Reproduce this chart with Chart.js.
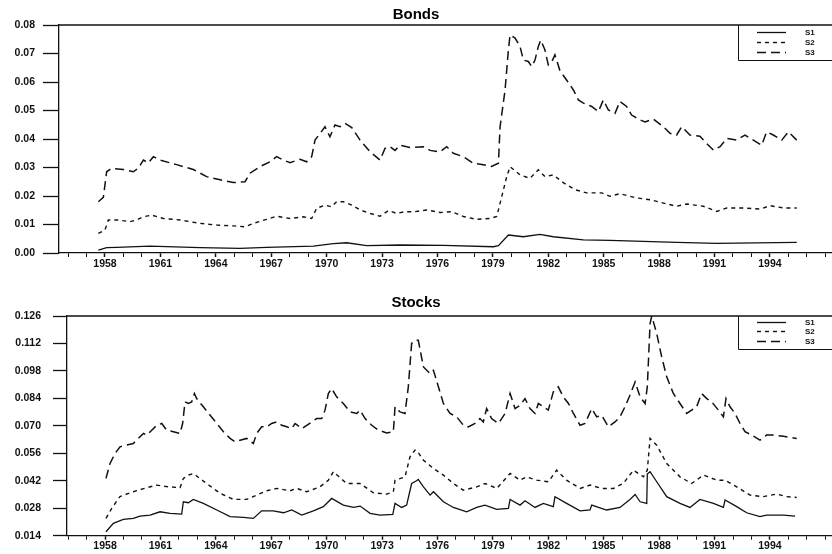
<!DOCTYPE html>
<html>
<head>
<meta charset="utf-8">
<script src="https://cdn.jsdelivr.net/npm/chart.js@4.4.0/dist/chart.umd.min.js"></script>
<style>
body { margin: 0; background: #fff; }
canvas { display: block; }
</style>
</head>
<body>
<canvas id="bondsChart" width="832" height="270"></canvas>
<canvas id="stocksChart" width="832" height="284"></canvas>
<script>
// ---- Bonds ----
var bondsS1Years = [1957.64, 1958.09, 1958.63, 1960.44, 1963.14, 1965.31, 1966.75, 1969.28, 1970.36, 1971.08, 1972.17, 1973.97,
    1976.32, 1979.03, 1979.30, 1979.84, 1980.65, 1981.55, 1982.27, 1983.90, 1985.34, 1988.95, 1991.12, 1995.45];
var bondsS1 = [0.0010, 0.0019, 0.0020, 0.0024, 0.0019, 0.0016, 0.0020, 0.0024, 0.0033, 0.0036, 0.0026, 0.0028,
    0.0027, 0.0022, 0.0026, 0.0063, 0.0057, 0.0065, 0.0057, 0.0046, 0.0044, 0.0037, 0.0034, 0.0037];

var bondsS2Years = [1957.64, 1958.00, 1958.18, 1958.63, 1959.35, 1959.71, 1960.08, 1960.53, 1961.16, 1962.06, 1963.14, 1964.05,
    1964.95, 1965.58, 1966.03, 1966.75, 1967.29, 1968.02, 1968.74, 1969.19, 1969.46, 1969.91, 1970.27, 1970.54, 1970.90,
    1971.36, 1971.81, 1972.35, 1972.89, 1973.34, 1973.79, 1974.24, 1974.78, 1975.42, 1976.14, 1976.77, 1977.40, 1978.12,
    1978.84, 1979.21, 1979.48, 1979.75, 1979.93, 1980.47, 1981.01, 1981.46, 1981.82, 1982.27, 1982.81, 1983.45, 1984.08,
    1984.89, 1985.34, 1985.88, 1986.79, 1987.51, 1988.23, 1988.95, 1989.49, 1990.40, 1991.12, 1991.66, 1992.56, 1993.46,
    1994.00, 1994.73, 1995.45];
var bondsS2 = [0.0069, 0.0081, 0.0116, 0.0116, 0.0110, 0.0116, 0.0127, 0.0133, 0.0121, 0.0116, 0.0104, 0.0098,
    0.0095, 0.0092, 0.0104, 0.0118, 0.0129, 0.0121, 0.0127, 0.0121, 0.0157, 0.0168, 0.0162, 0.0180, 0.0180,
    0.0168, 0.0151, 0.0139, 0.0129, 0.0149, 0.0139, 0.0145, 0.0145, 0.0151, 0.0142, 0.0145, 0.0128, 0.0118,
    0.0121, 0.0128, 0.0198, 0.0268, 0.0303, 0.0274, 0.0262, 0.0292, 0.0268, 0.0274, 0.0247, 0.0222, 0.0211,
    0.0211, 0.0199, 0.0208, 0.0193, 0.0187, 0.0175, 0.0164, 0.0172, 0.0164, 0.0146, 0.0158, 0.0158, 0.0154,
    0.0166, 0.0158, 0.0158];

var bondsS3Years = [1957.64, 1957.91, 1958.09, 1958.36, 1958.99, 1959.53, 1959.80, 1960.08, 1960.35, 1960.62, 1960.98, 1961.88,
    1962.78, 1963.50, 1964.23, 1964.95, 1965.58, 1965.85, 1966.39, 1966.93, 1967.29, 1967.66, 1968.02, 1968.56, 1968.92,
    1969.19, 1969.37, 1969.64, 1969.91, 1970.18, 1970.45, 1970.72, 1970.99, 1971.36, 1971.81, 1972.35, 1972.89, 1973.16,
    1973.43, 1973.70, 1973.97, 1974.51, 1975.24, 1975.60, 1976.14, 1976.50, 1976.86, 1977.40, 1977.94, 1978.48, 1978.93,
    1979.30, 1979.39, 1979.66, 1979.84, 1979.93, 1980.20, 1980.47, 1980.65, 1980.92, 1981.10, 1981.28, 1981.46, 1981.59,
    1981.82, 1982.00, 1982.18, 1982.36, 1982.63, 1982.99, 1983.36, 1983.63, 1983.90, 1984.35, 1984.71, 1984.98, 1985.25,
    1985.61, 1985.88, 1986.24, 1986.51, 1986.97, 1987.24, 1987.69, 1988.23, 1988.59, 1988.95, 1989.22, 1989.67, 1990.21,
    1990.58, 1990.94, 1991.30, 1991.66, 1992.20, 1992.65, 1993.10, 1993.55, 1993.82, 1994.18, 1994.64, 1995.00, 1995.45];
var bondsS3 = [0.0180, 0.0195, 0.0285, 0.0297, 0.0293, 0.0285, 0.0297, 0.0326, 0.0316, 0.0338, 0.0326, 0.0310,
    0.0293, 0.0268, 0.0257, 0.0247, 0.0250, 0.0280, 0.0303, 0.0320, 0.0338, 0.0326, 0.0317, 0.0329, 0.0320,
    0.0338, 0.0396, 0.0419, 0.0443, 0.0408, 0.0449, 0.0443, 0.0455, 0.0440, 0.0396, 0.0355, 0.0326, 0.0367,
    0.0373, 0.0360, 0.0378, 0.0370, 0.0373, 0.0360, 0.0355, 0.0373, 0.0350, 0.0338, 0.0315, 0.0310, 0.0304,
    0.0315, 0.0443, 0.0572, 0.0712, 0.0765, 0.0754, 0.0725, 0.0677, 0.0672, 0.0654, 0.0677, 0.0725, 0.0747,
    0.0712, 0.0660, 0.0670, 0.0695, 0.0640, 0.0607, 0.0572, 0.0537, 0.0526, 0.0514, 0.0496, 0.0537, 0.0502,
    0.0490, 0.0532, 0.0514, 0.0484, 0.0467, 0.0460, 0.0470, 0.0443, 0.0420, 0.0414, 0.0443, 0.0414, 0.0410,
    0.0384, 0.0361, 0.0373, 0.0402, 0.0396, 0.0414, 0.0396, 0.0378, 0.0425, 0.0414, 0.0396, 0.0425, 0.0396];

var bondsYTicks = [0, 0.01, 0.02, 0.03, 0.04, 0.05, 0.06, 0.07, 0.08];

// ---- Stocks ----
var stocksS1Years = [1958.05, 1958.45, 1958.99, 1959.53, 1959.89, 1960.44, 1960.98, 1961.52, 1962.15, 1962.24, 1962.51, 1962.78,
    1963.32, 1964.05, 1964.77, 1965.49, 1966.03, 1966.48, 1967.11, 1967.66, 1968.11, 1968.65, 1969.28, 1969.82, 1970.27,
    1970.90, 1971.45, 1971.81, 1972.35, 1972.89, 1973.58, 1973.70, 1974.06, 1974.33, 1974.60, 1974.87, 1974.96, 1975.24,
    1975.60, 1975.78, 1976.32, 1976.86, 1977.58, 1978.12, 1978.57, 1979.21, 1979.84, 1979.93, 1980.47, 1980.74, 1981.28,
    1981.73, 1982.27, 1982.36, 1982.99, 1983.72, 1984.26, 1984.35, 1985.16, 1985.88, 1986.42, 1986.70, 1986.97, 1987.33,
    1987.36, 1987.51, 1987.87, 1988.41, 1989.13, 1989.67, 1990.21, 1990.94, 1991.48, 1991.57, 1992.20, 1992.74, 1993.46,
    1993.82, 1994.73, 1995.36];
var stocksS1 = [0.0160, 0.0203, 0.0223, 0.0228, 0.0240, 0.0245, 0.0262, 0.0254, 0.0250, 0.0313, 0.0308, 0.0325,
    0.0305, 0.0271, 0.0237, 0.0233, 0.0228, 0.0267, 0.0267, 0.0257, 0.0271, 0.0245, 0.0267, 0.0288, 0.0330,
    0.0296, 0.0284, 0.0291, 0.0254, 0.0245, 0.0249, 0.0305, 0.0284, 0.0296, 0.0406, 0.0420, 0.0427, 0.0389,
    0.0347, 0.0364, 0.0313, 0.0284, 0.0262, 0.0284, 0.0296, 0.0274, 0.0279, 0.0325, 0.0296, 0.0318, 0.0284,
    0.0305, 0.0288, 0.0339, 0.0305, 0.0267, 0.0271, 0.0296, 0.0271, 0.0284, 0.0325, 0.0350, 0.0313, 0.0305,
    0.0454, 0.0466, 0.0415, 0.0339, 0.0305, 0.0284, 0.0325, 0.0305, 0.0284, 0.0322, 0.0288, 0.0257, 0.0237,
    0.0245, 0.0245, 0.0240];

var stocksS2Years = [1958.05, 1958.36, 1958.81, 1959.53, 1960.08, 1960.80, 1961.34, 1962.06, 1962.24, 1962.51, 1962.78, 1963.50,
    1964.23, 1964.95, 1965.67, 1966.21, 1966.75, 1967.29, 1968.02, 1968.38, 1968.92, 1969.64, 1970.09, 1970.36, 1971.08,
    1971.81, 1972.53, 1973.25, 1973.61, 1973.70, 1974.24, 1974.51, 1974.78, 1974.87, 1975.24, 1975.78, 1976.32, 1976.86,
    1977.40, 1978.12, 1978.57, 1979.21, 1979.93, 1980.47, 1980.83, 1981.37, 1982.00, 1982.45, 1982.99, 1983.72, 1984.26,
    1984.89, 1985.52, 1986.06, 1986.61, 1987.15, 1987.36, 1987.51, 1987.87, 1988.41, 1989.13, 1989.76, 1990.40, 1991.12,
    1991.57, 1992.20, 1992.92, 1993.64, 1994.36, 1994.91, 1995.45];
var stocksS2 = [0.0228, 0.0279, 0.0340, 0.0364, 0.0380, 0.0398, 0.0390, 0.0385, 0.0432, 0.0449, 0.0457, 0.0406,
    0.0356, 0.0325, 0.0325, 0.0347, 0.0369, 0.0381, 0.0369, 0.0381, 0.0364, 0.0389, 0.0423, 0.0466, 0.0406,
    0.0406, 0.0359, 0.0352, 0.0364, 0.0423, 0.0440, 0.0542, 0.0576, 0.0576, 0.0525, 0.0483, 0.0449, 0.0406,
    0.0372, 0.0389, 0.0406, 0.0381, 0.0457, 0.0423, 0.0440, 0.0423, 0.0415, 0.0474, 0.0423, 0.0381, 0.0398,
    0.0381, 0.0381, 0.0406, 0.0474, 0.0440, 0.0474, 0.0636, 0.0601, 0.0508, 0.0440, 0.0406, 0.0449, 0.0423,
    0.0423, 0.0389, 0.0347, 0.0339, 0.0352, 0.0339, 0.0335];

var stocksS3Years = [1958.05, 1958.27, 1958.54, 1958.81, 1959.17, 1959.53, 1959.80, 1960.08, 1960.26, 1960.53, 1960.80, 1961.07,
    1961.34, 1961.70, 1962.06, 1962.20, 1962.33, 1962.51, 1962.69, 1962.84, 1962.96, 1963.32, 1963.69, 1964.05, 1964.41,
    1964.77, 1965.04, 1965.31, 1965.67, 1966.03, 1966.21, 1966.48, 1966.75, 1967.02, 1967.29, 1967.57, 1967.84, 1968.11,
    1968.29, 1968.65, 1968.92, 1969.19, 1969.46, 1969.73, 1969.91, 1970.09, 1970.27, 1970.54, 1970.90, 1971.27, 1971.63,
    1971.81, 1972.08, 1972.44, 1972.80, 1973.25, 1973.61, 1973.70, 1973.97, 1974.24, 1974.42, 1974.60, 1974.78, 1974.96,
    1975.24, 1975.60, 1975.78, 1976.05, 1976.32, 1976.68, 1977.04, 1977.40, 1977.67, 1978.03, 1978.30, 1978.48, 1978.66,
    1978.93, 1979.30, 1979.66, 1979.93, 1980.20, 1980.47, 1980.74, 1981.01, 1981.28, 1981.46, 1981.73, 1982.00, 1982.27,
    1982.54, 1982.81, 1983.09, 1983.36, 1983.72, 1983.99, 1984.35, 1984.62, 1984.89, 1985.25, 1985.61, 1985.88, 1986.15,
    1986.42, 1986.70, 1986.97, 1987.24, 1987.36, 1987.51, 1987.60, 1987.87, 1988.14, 1988.41, 1988.77, 1989.13, 1989.49,
    1989.76, 1990.03, 1990.30, 1990.58, 1990.85, 1991.21, 1991.48, 1991.62, 1991.84, 1992.11, 1992.38, 1992.65, 1993.01,
    1993.46, 1993.82, 1994.18, 1994.73, 1995.45];
var stocksS3 = [0.0432, 0.0508, 0.0559, 0.0593, 0.0602, 0.0610, 0.0636, 0.0661, 0.0653, 0.0678, 0.0703, 0.0712,
    0.0678, 0.0670, 0.0661, 0.0712, 0.0822, 0.0814, 0.0822, 0.0865, 0.0839, 0.0797, 0.0754, 0.0712, 0.0670,
    0.0636, 0.0619, 0.0627, 0.0636, 0.0610, 0.0661, 0.0695, 0.0695, 0.0712, 0.0720, 0.0703, 0.0695, 0.0686,
    0.0712, 0.0686, 0.0703, 0.0720, 0.0737, 0.0737, 0.0780, 0.0865, 0.0890, 0.0848, 0.0814, 0.0771, 0.0763,
    0.0780, 0.0737, 0.0703, 0.0678, 0.0664, 0.0669, 0.0797, 0.0771, 0.0763, 0.0899, 0.1120, 0.1136, 0.1136,
    0.1000, 0.0966, 0.0983, 0.0899, 0.0814, 0.0763, 0.0746, 0.0703, 0.0695, 0.0712, 0.0737, 0.0720, 0.0788,
    0.0737, 0.0712, 0.0763, 0.0865, 0.0788, 0.0805, 0.0839, 0.0788, 0.0763, 0.0814, 0.0797, 0.0780, 0.0873,
    0.0899, 0.0848, 0.0814, 0.0763, 0.0703, 0.0712, 0.0788, 0.0746, 0.0754, 0.0695, 0.0720, 0.0746, 0.0797,
    0.0856, 0.0924, 0.0848, 0.0814, 0.0899, 0.1221, 0.1260, 0.1170, 0.1051, 0.0950, 0.0865, 0.0814, 0.0763,
    0.0780, 0.0797, 0.0865, 0.0839, 0.0822, 0.0780, 0.0746, 0.0839, 0.0797, 0.0763, 0.0712, 0.0670, 0.0653,
    0.0627, 0.0653, 0.0653, 0.0647, 0.0636];

var stocksYTicks = [0.014, 0.028, 0.042, 0.056, 0.070, 0.084, 0.098, 0.112, 0.126];

var xTickLabels = ['1958', '1961', '1964', '1967', '1970', '1973', '1976', '1979', '1982', '1985', '1988', '1991', '1994'];
var seriesNames = ['S1', 'S2', 'S3'];

var FONT = '"Liberation Sans", Arial, sans-serif';
var INK = '#111';

function pts(xs, ys) {
    return xs.map(function (x, i) { return { x: x, y: ys[i] }; });
}

var yearTicks = [];
for (var yr = 1956; yr <= 1997; yr++) yearTicks.push(yr);

// frame top line + boxed legend in the upper right corner
var boxLegend = {
    id: 'boxLegend',
    afterDraw: function (chart, args, opts) {
        var ctx = chart.ctx, a = chart.chartArea;
        ctx.save();
        ctx.strokeStyle = INK;
        ctx.lineWidth = 1.3;
        ctx.beginPath();
        ctx.moveTo(a.left, a.top);
        ctx.lineTo(a.right + 2, a.top);
        ctx.stroke();

        var x0 = 738.5, y0 = a.top;
        ctx.lineWidth = 1;
        ctx.beginPath();
        ctx.moveTo(x0, y0);
        ctx.lineTo(x0, y0 + opts.height + 0.5);
        ctx.lineTo(a.right + 2, y0 + opts.height + 0.5);
        ctx.stroke();

        chart.data.datasets.forEach(function (ds, i) {
            var y = y0 + opts.rows[i] + 0.5;
            ctx.setLineDash(ds.borderDash || []);
            ctx.lineWidth = ds.borderWidth;
            ctx.beginPath();
            ctx.moveTo(757, y);
            ctx.lineTo(786, y);
            ctx.stroke();
            ctx.setLineDash([]);
            ctx.fillStyle = INK;
            ctx.font = 'bold 8px ' + FONT;
            ctx.textBaseline = 'middle';
            ctx.textAlign = 'left';
            ctx.fillText(ds.label, 805, y);
        });
        ctx.restore();
    }
};

function makeChart(id, title, titlePad, series, cfg) {
    var styles = [
        { dash: [], width: 1.3 },
        { dash: [4, 4], width: 1.4 },
        { dash: [9, 5], width: 1.5 }
    ];
    var datasets = series.map(function (s, i) {
        return {
            label: seriesNames[i],
            data: s,
            borderColor: INK,
            borderWidth: styles[i].width,
            borderDash: styles[i].dash,
            pointRadius: 0,
            fill: false,
            tension: 0
        };
    });
    return new Chart(document.getElementById(id).getContext('2d'), {
        type: 'line',
        data: { datasets: datasets },
        plugins: [boxLegend],
        options: {
            responsive: false,
            animation: false,
            layout: { padding: 0 },
            plugins: {
                legend: { display: false },
                tooltip: { enabled: false },
                title: {
                    display: true,
                    text: title,
                    color: '#000',
                    font: { family: FONT, size: 15, weight: 'bold' },
                    padding: titlePad
                },
                boxLegend: cfg.legend
            },
            scales: {
                x: {
                    type: 'linear',
                    min: cfg.xMin,
                    max: 1997.36,
                    afterBuildTicks: function (s) {
                        s.ticks = yearTicks.map(function (v) { return { value: v }; });
                    },
                    afterFit: function (s) { s.height = cfg.xHeight; },
                    grid: {
                        drawOnChartArea: false,
                        tickLength: 4,
                        tickColor: INK,
                        tickWidth: function (c) {
                            return c.tick && xTickLabels.indexOf(String(c.tick.value)) >= 0 ? 1.5 : 1;
                        }
                    },
                    border: { color: INK, width: 1.3 },
                    ticks: {
                        autoSkip: false,
                        maxRotation: 0,
                        padding: cfg.xPad,
                        color: INK,
                        font: { family: FONT, size: 10.5, weight: 'bold' },
                        callback: function (v) {
                            return xTickLabels.indexOf(String(v)) >= 0 ? String(v) : '';
                        }
                    }
                },
                y: {
                    min: cfg.yTicks[0],
                    max: cfg.yTicks[cfg.yTicks.length - 1],
                    afterBuildTicks: function (s) {
                        s.ticks = cfg.yTicks.map(function (v) { return { value: v }; });
                    },
                    afterFit: function (s) { s.width = cfg.yWidth; },
                    grid: {
                        drawOnChartArea: false,
                        tickLength: cfg.yTickLen,
                        tickColor: INK,
                        tickWidth: 1.3
                    },
                    border: { color: INK, width: 1.3 },
                    ticks: {
                        padding: cfg.yPad,
                        color: INK,
                        font: { family: FONT, size: 10.5, weight: 'bold' },
                        callback: function (v) { return v.toFixed(cfg.dec); }
                    }
                }
            }
        }
    });
}

makeChart('bondsChart', 'Bonds', { top: 6, bottom: 1 },
    [pts(bondsS1Years, bondsS1), pts(bondsS2Years, bondsS2), pts(bondsS3Years, bondsS3)],
    { xMin: 1955.51, yTicks: bondsYTicks, dec: 2, yWidth: 59, yTickLen: 16, yPad: 8,
      xHeight: 17, xPad: 1, legend: { height: 35, rows: [7, 17, 27] } });

makeChart('stocksChart', 'Stocks', { top: 24, bottom: 4 },
    [pts(stocksS1Years, stocksS1), pts(stocksS2Years, stocksS2), pts(stocksS3Years, stocksS3)],
    { xMin: 1955.94, yTicks: stocksYTicks, dec: 3, yWidth: 67, yTickLen: 14, yPad: 12,
      xHeight: 17, xPad: 0, legend: { height: 33, rows: [6, 15, 25] } });
</script>
</body>
</html>
